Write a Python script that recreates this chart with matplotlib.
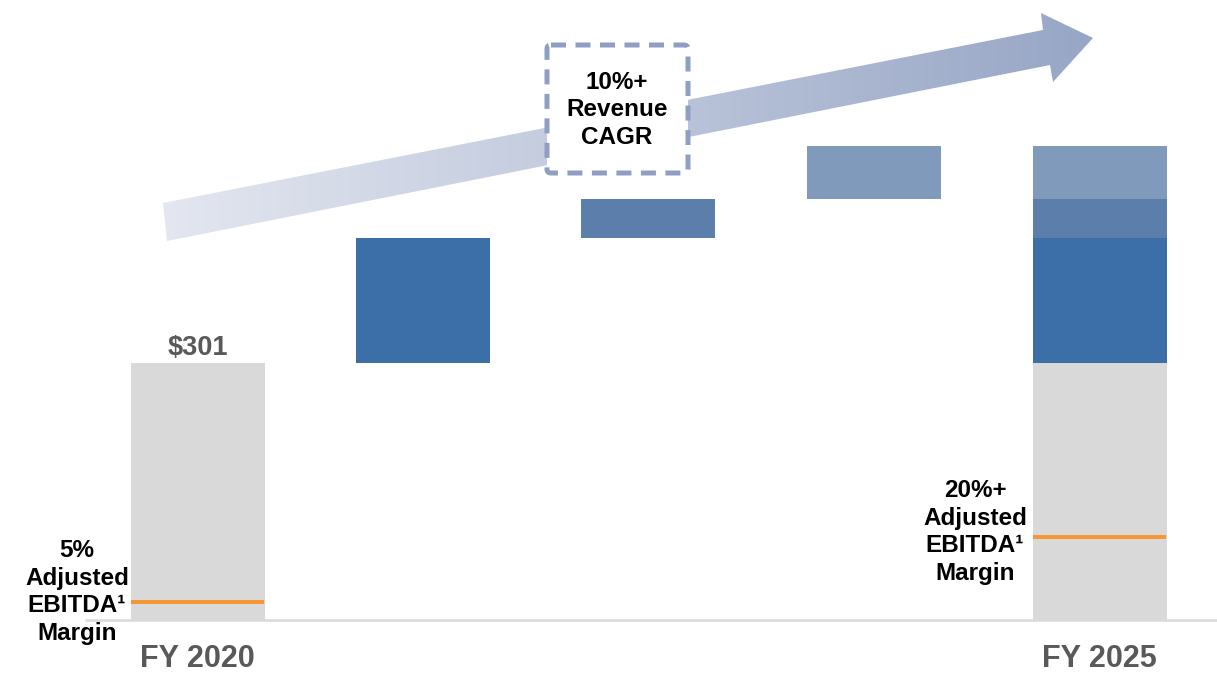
import matplotlib
matplotlib.use("Agg")
import matplotlib.pyplot as plt
import numpy as np
from matplotlib.patches import Polygon, FancyBboxPatch
from matplotlib.colors import LinearSegmentedColormap

plt.rcParams['font.family'] = ['Liberation Sans', 'DejaVu Sans']
plt.rcParams['font.weight'] = 'bold'

# ---- data ----
categories = ["FY 2020", "", "", "", "FY 2025"]
start_value = 301
increments = [146, 46, 62]
margin_2020 = 21      # height of margin marker (scale units)
margin_2025 = 97
start_label = "$301"
margin_label_2020 = "5%\nAdjusted\nEBITDA¹\nMargin"
margin_label_2025 = "20%+\nAdjusted\nEBITDA¹\nMargin"
cagr_label = "10%+\nRevenue\nCAGR"

gray = "#d9d9d9"
step_colors = ["#3c6ea8", "#5b7eab", "#7f9aba"]
orange = "#f7962f"

W, H = 1217, 678
fig = plt.figure(figsize=(W / 100, H / 100), dpi=100)

# overlay axes in pixel coordinates (for arrow and box decoration)
axp = fig.add_axes([0, 0, 1, 1])
axp.set_xlim(0, W)
axp.set_ylim(H, 0)
axp.axis('off')

# gradient arrow
arrow_pts = [(163, 203), (1043, 30), (1041, 13), (1093, 38), (1053, 82), (1050, 65), (167, 241)]
poly = Polygon(arrow_pts, closed=True, facecolor='none', edgecolor='none')
axp.add_patch(poly)
cmap = LinearSegmentedColormap.from_list("arr", ["#e4e7f0", "#97a6c6"])
grad = np.linspace(0, 1, 256).reshape(1, -1)
im = axp.imshow(grad, cmap=cmap, extent=(160, 1095, 245, 10), aspect='auto', zorder=1)
im.set_clip_path(poly)

# dashed box
box = FancyBboxPatch((547, 45), 141, 128, boxstyle="round,pad=0,rounding_size=4",
                     facecolor='white', edgecolor='#8e9fc3', linewidth=3.6,
                     linestyle=(0, (3.0, 1.9)), zorder=3)
axp.add_patch(box)
axp.text(617, 110, cagr_label, ha='center', va='center', fontsize=17.5,
         fontweight='bold', color='black', linespacing=1.26, zorder=4)

# main axes
ax = fig.add_axes([0, 0, 1, 1])
ax.patch.set_alpha(0)
ax.axis('off')
px_per_x = 225.5
px_per_y = 257 / start_value
ax.set_xlim(-197.5 / px_per_x, (W - 197.5) / px_per_x)
ax.set_ylim(-(H - 620) / px_per_y, 620 / px_per_y)

x = np.arange(len(categories))
bw = 134 / px_per_x

ax.plot([-0.5, 4.6], [0, 0], color=gray, lw=1.8, zorder=1, solid_capstyle='butt')

ax.bar(x[0], start_value, width=bw, color=gray, zorder=2)
bottom = start_value
for i, inc in enumerate(increments):
    ax.bar(x[i + 1], inc, bottom=bottom, width=bw, color=step_colors[i], zorder=2)
    bottom += inc
# final stacked bar
ax.bar(x[4], start_value, width=bw, color=gray, zorder=2)
bottom = start_value
for i, inc in enumerate(increments):
    ax.bar(x[4], inc, bottom=bottom, width=bw, color=step_colors[i], zorder=2)
    bottom += inc

# margin markers
ax.hlines(margin_2020, x[0] - bw / 2, x[0] + bw / 2, color=orange, lw=2.8, zorder=3)
ax.hlines(margin_2025, x[4] - bw / 2, x[4] + bw / 2, color=orange, lw=2.8, zorder=3)

# labels
ax.annotate(start_label, (x[0], start_value), xytext=(0, 11), textcoords='offset points',
            ha='center', va='center', fontsize=19.5, fontweight='bold', color='#595959')
for xi, cat in zip(x, categories):
    if cat:
        ax.text(xi, -39 / px_per_y, cat, ha='center', va='center', fontsize=22,
                fontweight='bold', color='#595959')

ax.text((77 - 197.5) / px_per_x, (620 - 592) / px_per_y, margin_label_2020, ha='center',
        va='center', fontsize=17.5, fontweight='bold', color='black', linespacing=1.26)
ax.text((975 - 197.5) / px_per_x, (620 - 532) / px_per_y, margin_label_2025, ha='center',
        va='center', fontsize=17.5, fontweight='bold', color='black', linespacing=1.26)

fig.savefig("out.png", dpi=100)
